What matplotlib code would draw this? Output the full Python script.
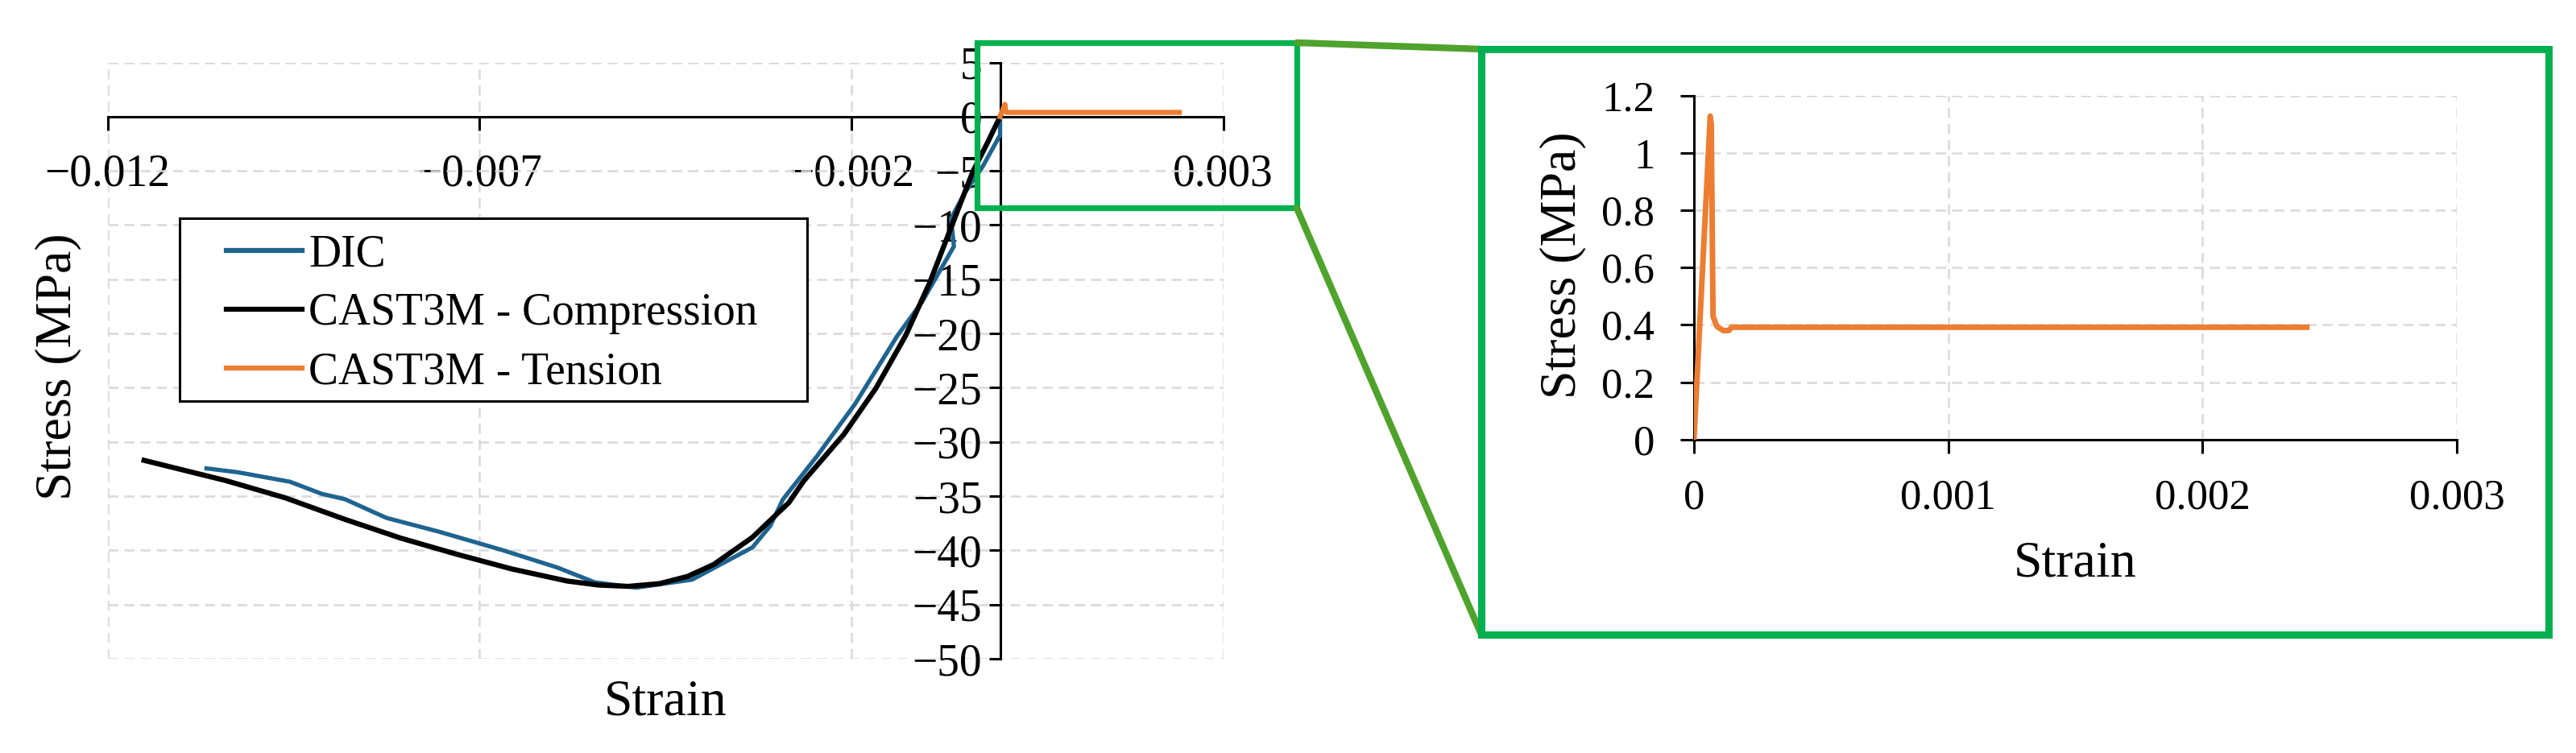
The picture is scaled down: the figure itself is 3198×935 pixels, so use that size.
import numpy as np
import matplotlib
matplotlib.use("Agg")
import matplotlib.pyplot as plt
from matplotlib.patches import Rectangle, ConnectionPatch
from matplotlib.lines import Line2D

plt.rcParams["font.family"] = ["Liberation Serif", "DejaVu Serif"]

#%% data
# DIC measurement
dic_strain = [-0.01067, -0.01024, -0.00955, -0.00912, -0.00881, -0.00825, -0.00756,
              -0.00669, -0.00595, -0.00545, -0.00489, -0.00414, -0.00377, -0.00333,
              -0.00309, -0.00292, -0.00246, -0.00195, -0.00138, -0.00105, -0.00062,
              -0.00066, -0.00048, -0.00023, 0.0, 0.0]
dic_stress = [-32.44, -32.81, -33.67, -34.79, -35.28, -37.01, -38.25,
              -39.98, -41.59, -42.95, -43.44, -42.7, -41.34, -39.73,
              -37.75, -35.3, -31.3, -26.5, -20.2, -17.1, -11.96,
              -9.4, -7.1, -4.56, -1.7, -0.3]

# CAST3M compression
comp_strain = [-0.01151, -0.01042, -0.00961, -0.00881, -0.00806, -0.00731, -0.00657,
               -0.00582, -0.00540, -0.00500, -0.00458, -0.00420, -0.00385, -0.00333,
               -0.00284, -0.00264, -0.00210, -0.00167, -0.00127, -0.00095, -0.00066,
               -0.00037, -0.00016, 0.0]
comp_stress = [-31.7, -33.55, -35.16, -37.14, -38.87, -40.35, -41.71,
               -42.83, -43.2, -43.32, -43.07, -42.4, -41.3, -38.8,
               -35.6, -33.6, -29.3, -25.06, -20.2, -15.38, -10.25,
               -5.13, -2.28, 0.0]

# CAST3M tension
tens_strain = [0.0, 0.000064, 0.000068, 0.000075, 0.00009, 0.000116, 0.000138, 0.000148, 0.00241]
tens_stress = [0.0, 1.13, 1.1, 0.43, 0.395, 0.38, 0.381, 0.392, 0.392]

# ticks
main_xticks = [-0.012, -0.007, -0.002, 0.003]
main_xlabels = ["\u22120.012", "\u22120.007", "\u22120.002", "0.003"]
main_yticks = list(range(-50, 6, 5))
main_ylabels = [str(v).replace("-", "\u2212") for v in main_yticks]
ins_xticks = [0, 0.001, 0.002, 0.003]
ins_xlabels = ["0", "0.001", "0.002", "0.003"]
ins_yticks = [0, 0.2, 0.4, 0.6, 0.8, 1.0, 1.2]
ins_ylabels = ["0", "0.2", "0.4", "0.6", "0.8", "1", "1.2"]

# zoom window on the main chart (strain, stress)
zoom_box = [-0.00031, -8.43, 0.00399, 6.82]

c_dic = "#1f6490"
c_comp = "black"
c_tens = "#ed7d31"
c_green = "#00b050"
c_link = "#4fa32c"
c_grid = "#d9d9d9"
fs_main = 40
fs_ins = 38
fs_lab = 46

fig = plt.figure(figsize=(31.98, 9.35), dpi=100)

#%% main chart
ax = fig.add_axes([0.04178, 0.12513, 0.43305, 0.79198])
ax.plot(dic_strain, dic_stress, color=c_dic, lw=3.8, zorder=4, solid_joinstyle="round")
ax.plot(comp_strain, comp_stress, color=c_comp, lw=4.6, zorder=5, solid_joinstyle="round")
ax.plot(tens_strain, tens_stress, color=c_tens, lw=4.5, zorder=5, solid_joinstyle="round")
ax.set_xlim(-0.012, 0.003)
ax.set_ylim(-50, 5)
ax.set_xticks(main_xticks)
ax.set_xticklabels(main_xlabels)
ax.set_yticks(main_yticks)
ax.set_yticklabels(main_ylabels)
for s in ["top", "right"]:
    ax.spines[s].set_visible(False)
ax.spines["left"].set_position(("data", 0))
ax.spines["bottom"].set_position(("data", 0))
ax.spines["left"].set_linewidth(2.2)
ax.spines["bottom"].set_linewidth(2.2)
ax.tick_params(axis="x", direction="out", length=12, width=2.2, pad=21, labelsize=fs_main)
ax.tick_params(axis="y", direction="out", length=10, width=2.2, pad=6, labelsize=fs_main)
ax.grid(True, color=c_grid, linestyle=(0, (5, 3)), linewidth=1.8)
ax.set_axisbelow(True)
ax.text(-0.0445, 0.49, "Stress (MPa)", transform=ax.transAxes, rotation=90,
        ha="center", va="center", fontsize=fs_lab)
ax.text(0.5, -0.0945, "Strain", transform=ax.transAxes, ha="center", va="baseline",
        fontsize=fs_lab)

# legend with its own frame
handles = [Line2D([], [], color=c_dic, lw=4.5),
           Line2D([], [], color=c_comp, lw=4.5),
           Line2D([], [], color=c_tens, lw=4.5)]
labels = ["DIC", "CAST3M - Compression", "CAST3M - Tension"]
ax.legend(handles, labels, loc="upper left", bbox_to_anchor=(0.1064, 0.713),
          frameon=False, fontsize=40, borderpad=0, borderaxespad=0,
          handlelength=1.69, handletextpad=0.15, labelspacing=0.38)
ax.add_patch(Rectangle((0.0646, 0.4321), 0.5625, 0.3066, transform=ax.transAxes,
                       fill=True, facecolor="white", edgecolor="black", lw=2.2, zorder=6))
ax.get_legend().set_zorder(7)

# zoom window
ax.add_patch(Rectangle((zoom_box[0], zoom_box[1]), zoom_box[2] - zoom_box[0],
                       zoom_box[3] - zoom_box[1], fill=False, edgecolor=c_green,
                       lw=5.2, clip_on=False, zorder=8))

#%% inset chart
ins = fig.add_axes([0.65760, 0.41647, 0.29612, 0.45594])
ins.plot(tens_strain, tens_stress, color=c_tens, lw=5, zorder=4, solid_joinstyle="round")
ins.set_xlim(0, 0.003)
ins.set_ylim(0, 1.2)
ins.set_xticks(ins_xticks)
ins.set_xticklabels(ins_xlabels)
ins.set_yticks(ins_yticks)
ins.set_yticklabels(ins_ylabels)
for s in ["top", "right"]:
    ins.spines[s].set_visible(False)
ins.spines["left"].set_linewidth(2.2)
ins.spines["bottom"].set_linewidth(2.2)
ins.tick_params(axis="both", direction="out", length=12, width=2.2, pad=23, labelsize=fs_ins)
ins.grid(True, color=c_grid, linestyle=(0, (5, 3)), linewidth=1.8)
ins.set_axisbelow(True)
ins.text(-0.1716, 0.507, "Stress (MPa)", transform=ins.transAxes, rotation=90,
         ha="center", va="center", fontsize=fs_lab)
ins.text(0.5, -0.3997, "Strain", transform=ins.transAxes, ha="center", va="baseline",
         fontsize=fs_lab)

# big frame round the inset
big = [0.57505, 0.15722, 0.41432, 0.77754]
fig.add_artist(Rectangle((big[0], big[1]), big[2], big[3], transform=fig.transFigure,
                         fill=False, edgecolor=c_green, lw=6.5, zorder=8))

# connector lines
for yb, yf in [(zoom_box[3], big[1] + big[3]), (zoom_box[1], big[1])]:
    con = ConnectionPatch(xyA=(zoom_box[2], yb), coordsA=ax.transData,
                          xyB=(big[0], yf), coordsB=fig.transFigure,
                          color=c_link, lw=6, zorder=7)
    fig.add_artist(con)

fig.savefig("out.png", dpi=100)
